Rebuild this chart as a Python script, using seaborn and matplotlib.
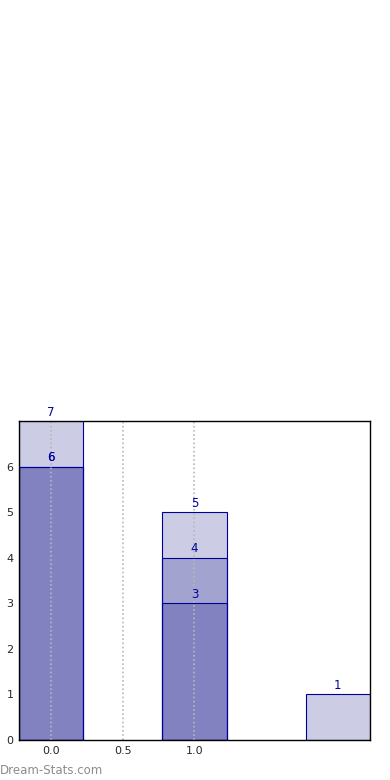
import matplotlib
matplotlib.use("Agg")
import matplotlib.pyplot as plt
import seaborn as sns

# Overlapping bar layers (drawn semi-transparent on top of each other)
layer1_x = [0.0, 1.0, 2.0]
layer1_y = [7, 5, 1]
layer2_x = [0.0, 1.0]
layer2_y = [6, 4]
layer3_x = [0.0, 1.0]
layer3_y = [6, 3]
xtick_vals = [0.0, 0.5, 1.0]
xtick_labels = ["0.0", "0.5", "1.0"]
ytick_vals = [0, 1, 2, 3, 4, 5, 6]

sns.set_style("white")
plt.rcParams['font.family'] = ['DejaVu Sans']

fig = plt.figure(figsize=(3.9, 7.8), dpi=100)
ax = fig.add_axes([0.0487, 0.0513, 0.9, 0.409])

for xs, ys in [(layer1_x, layer1_y), (layer2_x, layer2_y), (layer3_x, layer3_y)]:
    sns.barplot(x=xs, y=ys, native_scale=True, width=0.45, color="navy",
                edgecolor="navy", linewidth=0.8, ax=ax, saturation=1,
                errorbar=None)
    for p in ax.patches[-len(xs):]:
        p.set_alpha(None)
        p.set_facecolor((0, 0, 0.5, 0.2))
        p.set_edgecolor((0, 0, 0.6, 1))
        p.set_zorder(2)
    for x, y in zip(xs, ys):
        ax.text(x, y + 0.05, str(y), ha="center", va="bottom", color="#0000a0", fontsize=8.5, zorder=4)

ax.set_xlim(-0.225, 2.225)
ax.set_ylim(0, 7)
ax.set_xticks(xtick_vals)
ax.set_xticklabels(xtick_labels)
ax.set_yticks(ytick_vals)
ax.tick_params(axis="both", labelsize=8, length=3, direction="in", color="#888888", pad=4)
ax.xaxis.grid(True, linestyle=(0, (1, 1.5)), color="#b8b8b8", linewidth=1.2, zorder=1)
ax.yaxis.grid(False)
ax.set_axisbelow(False)
for s in ax.spines.values():
    s.set_color("black")
    s.set_linewidth(1)
    s.set_zorder(5)
ax.set_xlabel("")
ax.set_ylabel("")

fig.text(0.0, 0.004, "Dream-Stats.com", color="#8c8c8c", fontsize=8.5,
         ha="left", va="bottom")

fig.savefig("out.png", dpi=100)
